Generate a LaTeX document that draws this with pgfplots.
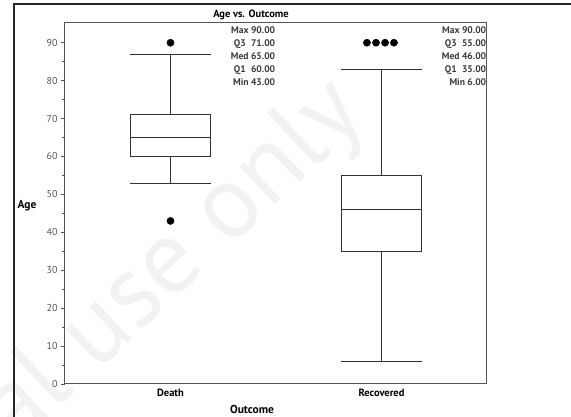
\documentclass[border=0pt]{standalone}
\usepackage{pgfplots}
\pgfplotsset{compat=1.18}
\usepackage{fontspec}
\setmainfont{PT Sans}
\definecolor{axgray}{HTML}{555555}
\definecolor{txtgray}{HTML}{3A3A3A}
\definecolor{wm}{HTML}{F2F2F2}
\begin{document}
\begin{tikzpicture}
\useasboundingbox (-65pt,-33pt) rectangle (506pt,384pt);
% watermark
\begin{scope}
\clip (-65pt,-33pt) rectangle (506pt,384pt);
\node[wm, rotate=43, anchor=base west, font=\fontsize{104}{106}\selectfont, inner sep=0pt] at (-49pt,-63pt) {al use only};
\end{scope}
% outer frame (left and top)
\draw[black!85, line width=1.2pt] (-51pt,-33pt) -- (-51pt,380pt) -- (506pt,380pt);
\begin{axis}[
  scale only axis,
  width=422pt, height=361pt,
  xmin=0.5, xmax=2.5,
  ymin=0, ymax=95.2,
  xtick={1,2},
  xticklabels={Death,Recovered},
  x tick label style={font=\bfseries\fontsize{10.5}{12}\selectfont, black, yshift=2pt},
  major x tick style={draw=none},
  ytick={0,10,...,90},
  minor y tick num=1,
  y tick label style={font=\fontsize{10}{12}\selectfont, axgray},
  /pgf/number format/assume math mode=true,
  tick align=outside,
  major tick length=4pt,
  minor tick length=2.5pt,
  y tick style={axgray, line width=0.8pt},
  axis line style={axgray, line width=1pt},
  ytick pos=left,
  xtick pos=bottom,
  clip=false,
  bx/.style={black!80, line width=0.8pt, mark=none, solid},
]
% Death box
\addplot[bx] coordinates {(0.81,60) (1.19,60) (1.19,71) (0.81,71) (0.81,60)};
\addplot[bx] coordinates {(0.81,65) (1.19,65)};
\addplot[bx] coordinates {(1,71) (1,87)};
\addplot[bx] coordinates {(1,60) (1,53)};
\addplot[bx] coordinates {(0.81,87) (1.19,87)};
\addplot[bx] coordinates {(0.81,53) (1.19,53)};
% Recovered box
\addplot[bx] coordinates {(1.81,35) (2.19,35) (2.19,55) (1.81,55) (1.81,35)};
\addplot[bx] coordinates {(1.81,46) (2.19,46)};
\addplot[bx] coordinates {(2,55) (2,83)};
\addplot[bx] coordinates {(2,35) (2,6)};
\addplot[bx] coordinates {(1.81,83) (2.19,83)};
\addplot[bx] coordinates {(1.81,6) (2.19,6)};
% outliers
\addplot[only marks, mark=*, mark size=3.6pt, black] coordinates {
  (1,90) (1,43) (1.931,90) (1.974,90) (2.017,90) (2.059,90)};
\node[anchor=north east, align=right, inner sep=0pt, txtgray,
  font=\bfseries\fontsize{9.6}{13}\selectfont] at (axis cs:1.497,94.4)
  {Max 90.00\\Q3\hspace{0.3em} 71.00\\Med 65.00\\Q1\hspace{0.3em} 60.00\\Min 43.00};
\node[anchor=north east, align=right, inner sep=0pt, txtgray,
  font=\bfseries\fontsize{9.6}{13}\selectfont] at (axis cs:2.497,94.4)
  {Max 90.00\\Q3\hspace{0.3em} 55.00\\Med 46.00\\Q1\hspace{0.3em} 35.00\\Min 6.00};
\end{axis}
\node[font=\bfseries\fontsize{10.5}{12}\selectfont] at (186pt,369pt) {Age vs. Outcome};
\node[font=\bfseries\fontsize{11.5}{12}\selectfont] at (187pt,-25pt) {Outcome};
\node[font=\bfseries\fontsize{11.5}{12}\selectfont] at (-38pt,178pt) {Age};
\end{tikzpicture}
\end{document}
